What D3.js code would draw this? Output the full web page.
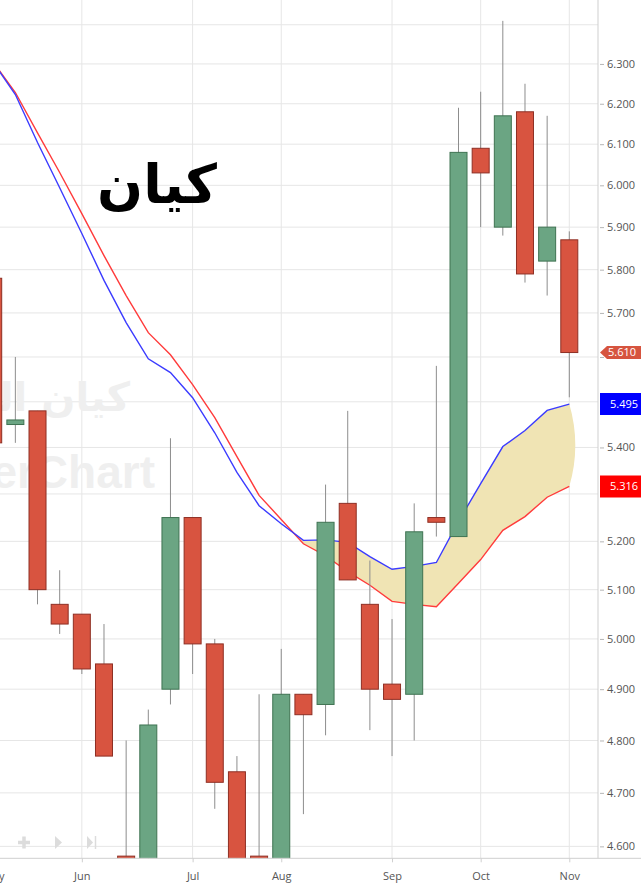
<!DOCTYPE html>
<html>
<head>
<meta charset="utf-8">
<script src="https://cdn.jsdelivr.net/npm/d3@7"></script>
<style>
  body { margin: 0; background: #fff; }
  svg { display: block; }
</style>
</head>
<body>
<svg id="chart" width="641" height="887"></svg>
<script>
// weekly candles (week starts on Saturday)
const weeks = ["2024-05-04", "2024-05-11", "2024-05-18", "2024-05-25", "2024-06-01", "2024-06-08",
  "2024-06-15", "2024-06-22", "2024-06-29", "2024-07-06", "2024-07-13", "2024-07-20", "2024-07-27",
  "2024-08-03", "2024-08-10", "2024-08-17", "2024-08-24", "2024-08-31", "2024-09-07", "2024-09-14",
  "2024-09-21", "2024-09-28", "2024-10-05", "2024-10-12", "2024-10-19", "2024-10-26", "2024-11-02"];
const open = [5.78, 5.45, 5.48, 5.07, 5.05, 4.95, 4.582, 4.50, 4.90, 5.25, 4.99, 4.74, 4.582, 4.55,
  4.89, 4.87, 5.28, 5.07, 4.91, 4.89, 5.25, 5.21, 6.09, 5.90, 6.18, 5.82, 5.87];
const high = [5.78, 5.60, 5.48, 5.14, 5.05, 5.03, 4.80, 4.86, 5.42, 5.25, 5.00, 4.77, 4.89, 4.98,
  4.89, 5.32, 5.48, 5.16, 5.04, 5.28, 5.58, 6.19, 6.23, 6.41, 6.25, 6.17, 5.89];
const low = [5.41, 5.41, 5.07, 5.01, 4.93, 4.77, 4.40, 4.42, 4.87, 4.93, 4.67, 4.50, 4.45, 4.50,
  4.66, 4.81, 5.12, 4.82, 4.77, 4.80, 5.21, 5.21, 5.90, 5.88, 5.77, 5.74, 5.51];
const close = [5.41, 5.46, 5.10, 5.03, 4.94, 4.77, 4.45, 4.83, 5.25, 4.99, 4.72, 4.55, 4.50, 4.89,
  4.85, 5.24, 5.12, 4.90, 4.88, 5.22, 5.24, 6.08, 6.03, 6.17, 5.79, 5.90, 5.61];
// moving averages
const maBlue = [6.304, 6.223, 6.104, 5.994, 5.885, 5.775, 5.678, 5.596, 5.565, 5.509, 5.432, 5.346,
  5.275, 5.237, 5.202, 5.203, 5.198, 5.168, 5.142, 5.148, 5.156, 5.242, 5.322, 5.402, 5.437, 5.481, 5.495];
const maRed = [6.305, 6.228, 6.128, 6.031, 5.932, 5.833, 5.740, 5.655, 5.605, 5.538, 5.465, 5.380,
  5.297, 5.246, 5.195, 5.170, 5.137, 5.109, 5.076, 5.070, 5.065, 5.113, 5.162, 5.223, 5.252, 5.293, 5.316];
const priceTicks = [4.6, 4.7, 4.8, 4.9, 5.0, 5.1, 5.2, 5.3, 5.4, 5.5, 5.6, 5.7, 5.8, 5.9, 6.0, 6.1, 6.2, 6.3];
const gridTicks = [...priceTicks, 6.4];
const title = "كيان";

const svg = d3.select("#chart");
const W = 598, H = 858.3;
const parse = d3.utcParse("%Y-%m-%d");
const data = weeks.map((w, i) => ({
  date: parse(w), open: open[i], high: high[i], low: low[i], close: close[i],
  blue: maBlue[i], red: maRed[i]
}));

const x = d3.scaleUtc()
  .domain([data[0].date, data[data.length - 1].date])
  .range([-6.8, 569.3]);
const y = d3.scaleLog()
  .domain([4.578, 6.464])
  .range([H, 0]);

// first candle of every month gets a label
const monthTicks = data.filter((d, i) => i === 0 || d.date.getUTCMonth() !== data[i - 1].date.getUTCMonth())
  .map(d => d.date);

svg.append("defs").append("clipPath").attr("id", "plot")
  .append("rect").attr("x", 0).attr("y", 0).attr("width", W).attr("height", H);

const plot = svg.append("g").attr("clip-path", "url(#plot)");

// grid
plot.append("g").selectAll("line").data(gridTicks).join("line")
  .attr("x1", 0).attr("x2", W)
  .attr("y1", d => y(d)).attr("y2", d => y(d))
  .attr("stroke", "#e6e6e6");
plot.append("g").selectAll("line").data(monthTicks).join("line")
  .attr("x1", d => x(d)).attr("x2", d => x(d))
  .attr("y1", 0).attr("y2", H)
  .attr("stroke", "#e6e6e6");

// watermark
plot.append("text")
  .attr("x", 130).attr("y", 411)
  .attr("text-anchor", "end")
  .attr("font-family", "DejaVu Sans").attr("font-weight", "bold").attr("font-size", 40)
  .attr("fill", "#efefef")
  .text("كيان السعودية");
plot.append("text")
  .attr("x", 155).attr("y", 488)
  .attr("text-anchor", "end")
  .attr("font-family", "Liberation Sans").attr("font-weight", "bold").attr("font-size", 46)
  .attr("fill", "#efefef")
  .text("TickerChart");

// toolbar icons
const tb = svg.append("g").attr("fill", "#dcdcdc").attr("stroke", "#dcdcdc");
tb.append("path").attr("d", "M18,842.5H30M24,836.5V848.5").attr("stroke-width", 3.5).attr("fill", "none");
tb.append("path").attr("d", "M55,836L62,842.5L55,849Z").attr("stroke", "none");
tb.append("path").attr("d", "M87,836L93,842.5L87,849Z").attr("stroke", "none");
tb.append("path").attr("d", "M95.5,836V849").attr("stroke-width", 1.5);

// band between the two averages where blue is above red
const pts = data.map(d => ({ x: x(d.date), yb: y(d.blue), yr: y(d.red) }));
let k = pts.length - 1;
while (k > 0 && data[k - 1].blue >= data[k - 1].red) k--;
const p0 = pts[k - 1], p1 = pts[k];
const d0 = p0.yr - p0.yb, d1 = p1.yr - p1.yb;
const t = d0 / (d0 - d1);
const cx = p0.x + t * (p1.x - p0.x), cy = p0.yb + t * (p1.yb - p0.yb);
const last = pts[pts.length - 1];
const band = d3.path();
band.moveTo(cx, cy);
pts.slice(k).forEach(p => band.lineTo(p.x, p.yb));
band.quadraticCurveTo(last.x + 12, (last.yb + last.yr) / 2, last.x, last.yr);
pts.slice(k).reverse().forEach(p => band.lineTo(p.x, p.yr));
band.closePath();
plot.append("path").attr("d", band.toString()).attr("fill", "#f0e4b4");

// averages
const lineOf = key => d3.line().x(d => x(d.date)).y(d => y(d[key]));
plot.append("path").datum(data)
  .attr("fill", "none").attr("stroke", "#ff3b3b").attr("stroke-width", 1.4)
  .attr("d", lineOf("red"));
plot.append("path").datum(data)
  .attr("fill", "none").attr("stroke", "#3b3bff").attr("stroke-width", 1.4)
  .attr("d", lineOf("blue"));

// candles
const candles = plot.append("g").selectAll("g").data(data).join("g");
candles.append("line")
  .attr("x1", d => x(d.date)).attr("x2", d => x(d.date))
  .attr("y1", d => y(d.high)).attr("y2", d => y(d.low))
  .attr("stroke", "#8d8d8d").attr("stroke-width", 1);
candles.append("rect")
  .attr("x", d => x(d.date) - 8.5).attr("width", 17)
  .attr("y", d => y(Math.max(d.open, d.close)))
  .attr("height", d => Math.max(1, y(Math.min(d.open, d.close)) - y(Math.max(d.open, d.close))))
  .attr("fill", d => d.close >= d.open ? "#6ba583" : "#d85440")
  .attr("stroke", d => d.close >= d.open ? "#3f7352" : "#8e2f24")
  .attr("stroke-width", 1);

// frame
svg.append("line").attr("x1", W).attr("x2", W).attr("y1", 0).attr("y2", H).attr("stroke", "#cfcfcf");
svg.append("line").attr("x1", 0).attr("x2", 641).attr("y1", H).attr("y2", H).attr("stroke", "#cfcfcf");

// axes
const badges = [
  { value: close[close.length - 1], fill: "#d6543f", shape: "arrow" },
  { value: maBlue[maBlue.length - 1], fill: "#0000ff", shape: "rect" },
  { value: maRed[maRed.length - 1], fill: "#ff0000", shape: "rect" }
];

const yAxis = svg.append("g")
  .attr("transform", `translate(${W + 2},0)`)
  .call(d3.axisRight(y).tickValues(priceTicks).tickFormat(d3.format(".3f")).tickSize(4).tickPadding(3));
yAxis.select(".domain").remove();
yAxis.selectAll(".tick line").attr("stroke", "#b5b5b5");
yAxis.selectAll(".tick text")
  .attr("fill", "#555").attr("font-family", "Open Sans").attr("font-size", 11)
  .filter(d => badges.some(b => Math.abs(y(b.value) - y(d)) < 12)).remove();

const xAxis = svg.append("g")
  .attr("transform", `translate(0,${H})`)
  .call(d3.axisBottom(x).tickValues(monthTicks).tickFormat(d3.utcFormat("%b")).tickSize(4).tickPadding(10));
xAxis.select(".domain").remove();
xAxis.selectAll(".tick line").attr("stroke", "#cfcfcf");
xAxis.selectAll(".tick text").attr("fill", "#555").attr("font-family", "Open Sans").attr("font-size", 11);

// last value badges
const bg = svg.append("g").selectAll("g").data(badges).join("g")
  .attr("transform", d => `translate(${W + 2},${y(d.value)})`);
bg.append("path")
  .attr("d", d => d.shape === "arrow" ? "M0,0L7,-6.5H45V6.5H7Z" : "M0,-11H45V11H0Z")
  .attr("fill", d => d.fill);
bg.append("text")
  .attr("x", d => d.shape === "arrow" ? 8 : 10).attr("dy", "0.35em")
  .attr("fill", "#fff").attr("font-family", "Open Sans").attr("font-size", 11)
  .text(d => d3.format(".3f")(d.value));

// title
svg.append("text")
  .attr("x", 157).attr("y", 203)
  .attr("text-anchor", "middle")
  .attr("font-family", "DejaVu Sans").attr("font-weight", "bold").attr("font-size", 54)
  .attr("fill", "#000")
  .text(title);
</script>
</body>
</html>
